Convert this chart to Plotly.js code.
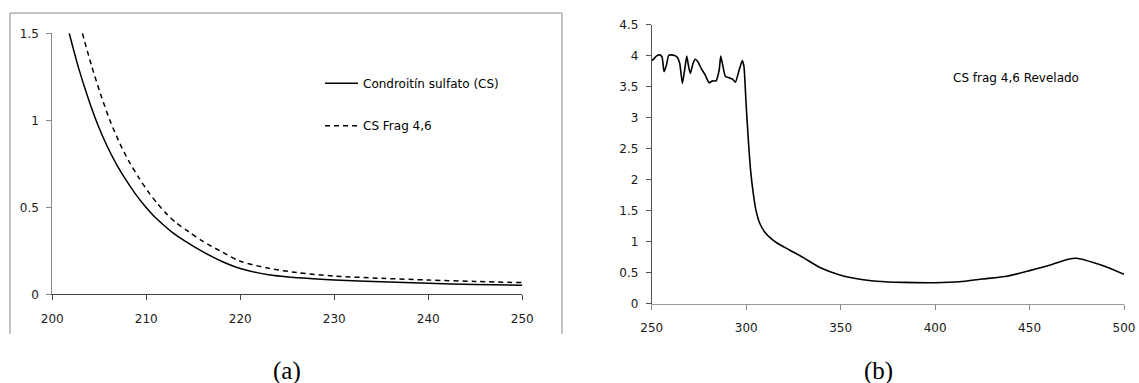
<!DOCTYPE html>
<html>
<head>
<meta charset="utf-8">
<script src="https://cdn.plot.ly/plotly-3.0.1.min.js"></script>
<style>html,body{margin:0;padding:0;background:#fff;}#chart{width:1139px;height:383px;}</style>
</head>
<body>
<div id="chart"></div>
<script>
// Panel (a): UV spectra 200-250 nm
var csX = [201.8, 202.8, 203.8, 204.8, 205.8, 206.8, 207.8, 208.8, 209.8, 210.8, 211.8, 212.8, 214, 216, 218, 220, 223, 226.7, 230, 235, 240, 245, 250];
var csY = [1.50, 1.30, 1.13, 0.98, 0.855, 0.75, 0.66, 0.58, 0.51, 0.45, 0.40, 0.355, 0.31, 0.245, 0.19, 0.148, 0.113, 0.093, 0.082, 0.072, 0.063, 0.057, 0.052];
var fragX = [203.2, 204.2, 205.2, 206.2, 207.2, 208.2, 209.2, 210.2, 211.2, 212.2, 213.2, 214.5, 216, 218, 220, 223, 226, 230, 235, 240, 245, 250];
var fragY = [1.50, 1.31, 1.14, 0.99, 0.865, 0.76, 0.67, 0.59, 0.52, 0.46, 0.41, 0.36, 0.305, 0.245, 0.19, 0.15, 0.125, 0.105, 0.092, 0.082, 0.074, 0.067];
var nameCS = 'Condroitín sulfato (CS)';
var nameFrag = 'CS Frag 4,6';

// Panel (b): revealed spectrum 250-500 nm
var revX = [250, 250.6, 252.4, 254.2, 255.4, 256.5, 257.8, 258.9, 260.3, 262.1, 263.5, 264.8, 266.2, 267.4, 268.5, 269.5, 270.4, 271.8, 273, 274.4, 276.2, 278.2, 280.3, 282, 284, 285.7, 286.5, 287.7, 289, 291, 293, 294.3, 296.3, 297.9, 298.8, 299.9, 301.1, 302.3, 303.7, 305.1, 307.2, 310.4, 316.1, 323.1, 330.2, 339, 349.6, 360.2, 369, 383, 400, 413, 425, 438, 450, 461, 470, 475, 485, 492.5, 500];
var revY = [3.92, 3.93, 3.99, 4.01, 3.98, 3.74, 3.85, 4.00, 4.01, 4.00, 3.97, 3.87, 3.55, 3.77, 3.99, 3.82, 3.71, 3.87, 3.94, 3.90, 3.79, 3.69, 3.56, 3.59, 3.59, 3.77, 3.99, 3.82, 3.66, 3.64, 3.61, 3.57, 3.77, 3.92, 3.82, 3.23, 2.64, 2.15, 1.78, 1.51, 1.29, 1.13, 0.98, 0.86, 0.74, 0.58, 0.46, 0.39, 0.36, 0.34, 0.335, 0.35, 0.395, 0.44, 0.53, 0.62, 0.71, 0.73, 0.65, 0.57, 0.47];
var revLabel = 'CS frag 4,6 Revelado';

var ticksA_x = [200, 210, 220, 230, 240, 250];
var ticksA_y = [0, 0.5, 1, 1.5];
var ticksB_x = [250, 300, 350, 400, 450, 500];
var ticksB_y = [0, 0.5, 1, 1.5, 2, 2.5, 3, 3.5, 4, 4.5];
var captions = ['(a)', '(b)'];

var W = 1139, H = 383;
var sansFamily = 'DejaVu Sans, Liberation Sans, Arial, sans-serif';
var tickFont = {family: sansFamily, size: 12, color: '#1a1a1a'};

var traces = [
  {x: csX, y: csY, name: nameCS, type: 'scatter', mode: 'lines', xaxis: 'x', yaxis: 'y',
   line: {color: '#000', width: 1.5, shape: 'spline', smoothing: 0.8}, legend: 'legend'},
  {x: fragX, y: fragY, name: nameFrag, type: 'scatter', mode: 'lines', xaxis: 'x', yaxis: 'y',
   line: {color: '#000', width: 1.5, dash: '5px,4px', shape: 'spline', smoothing: 0.8}, legend: 'legend2'},
  {x: revX, y: revY, name: revLabel, type: 'scatter', mode: 'lines', xaxis: 'x2', yaxis: 'y2',
   line: {color: '#000', width: 1.6, shape: 'spline', smoothing: 0.5}, showlegend: false}
];

function axis(opts) {
  return Object.assign({
    showgrid: false, zeroline: false, showline: true, ticks: 'outside', ticklen: 5,
    tickwidth: 1, tickfont: tickFont, fixedrange: true
  }, opts);
}

var legendBase = {
  font: {family: sansFamily, size: 12, color: '#000'},
  bgcolor: 'rgba(0,0,0,0)', borderwidth: 0, xanchor: 'left', yanchor: 'middle',
  itemwidth: 33, x: 320 / W
};

var layout = {
  width: W, height: H,
  margin: {l: 0, r: 0, t: 0, b: 0},
  paper_bgcolor: '#fff', plot_bgcolor: 'rgba(0,0,0,0)',
  showlegend: true,
  xaxis: axis({domain: [52.3 / W, 522.3 / W], range: [200, 250], tickvals: ticksA_x, anchor: 'y',
    linecolor: '#444', tickcolor: '#444', ticklabelstandoff: 8}),
  yaxis: axis({domain: [(H - 294.3) / H, (H - 33.3) / H], range: [0, 1.5], tickvals: ticksA_y, anchor: 'x',
    linecolor: '#888', tickcolor: '#888', ticklabelstandoff: 5}),
  xaxis2: axis({domain: [651.8 / W, 1124 / W], range: [250, 500], tickvals: ticksB_x, anchor: 'y2',
    linecolor: '#999', tickcolor: '#888', linewidth: 1.5, ticklabelstandoff: 8}),
  yaxis2: axis({domain: [(H - 303.5) / H, (H - 24.5) / H], range: [0, 4.5], tickvals: ticksB_y, anchor: 'x2',
    linecolor: '#555', tickcolor: '#555', ticklabelstandoff: 5}),
  legend: Object.assign({}, legendBase, {y: (H - 83.3) / H}),
  legend2: Object.assign({}, legendBase, {y: (H - 125.7) / H}),
  shapes: [
    {type: 'path', xref: 'paper', yref: 'paper',
     path: 'M' + (10 / W) + ',' + ((H - 334) / H) + ' L' + (10 / W) + ',' + ((H - 13) / H) +
           ' L' + (562 / W) + ',' + ((H - 13) / H) + ' L' + (562 / W) + ',' + ((H - 334) / H),
     line: {color: '#888', width: 1}}
  ],
  annotations: [
    {text: revLabel, xref: 'paper', yref: 'paper', x: 1016 / W, y: (H - 78) / H,
     xanchor: 'center', yanchor: 'middle', showarrow: false,
     font: {family: sansFamily, size: 12, color: '#000'}},
    {text: captions[0], xref: 'paper', yref: 'paper', x: 287 / W, y: (H - 371) / H,
     xanchor: 'center', yanchor: 'middle', showarrow: false,
     font: {family: 'Liberation Serif, Times New Roman, serif', size: 25, color: '#000'}},
    {text: captions[1], xref: 'paper', yref: 'paper', x: 878 / W, y: (H - 371) / H,
     xanchor: 'center', yanchor: 'middle', showarrow: false,
     font: {family: 'Liberation Serif, Times New Roman, serif', size: 25, color: '#000'}}
  ]
};

Plotly.newPlot('chart', traces, layout, {staticPlot: true, displayModeBar: false});
</script>
</body>
</html>
